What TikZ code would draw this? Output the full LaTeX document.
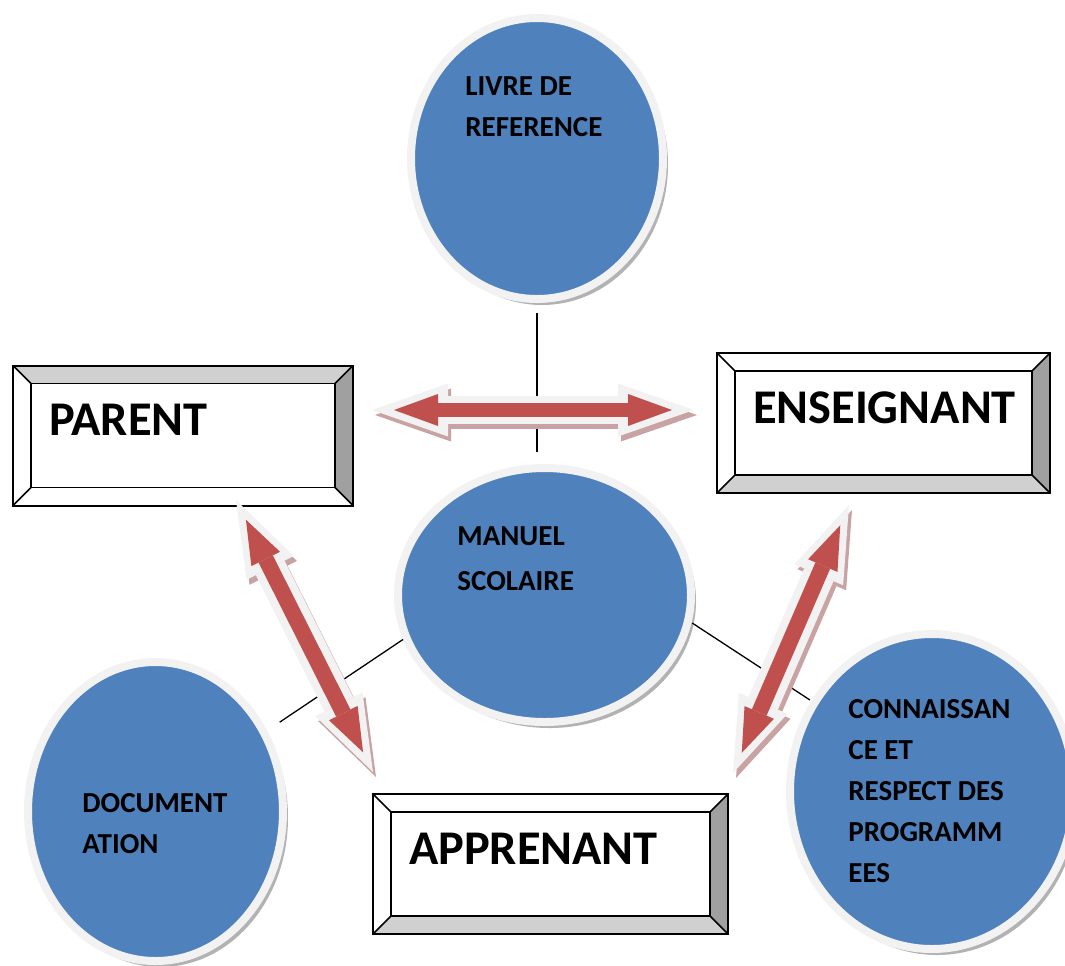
\documentclass[tikz,border=0pt]{standalone}
\usepackage{fontspec}
\setmainfont{Carlito}
\usetikzlibrary{shapes.geometric,arrows.meta,shadows}
\definecolor{officeblue}{HTML}{4F81BD}
\definecolor{officered}{HTML}{C0504D}
\definecolor{glowgray}{HTML}{F2F2F2}
\definecolor{arrowshade}{HTML}{C9A3A3}
\definecolor{bevellight}{HTML}{D0D0D0}
\definecolor{beveldark}{HTML}{A0A0A0}

\tikzset{
  bubble/.style={ellipse, inner sep=0pt, outer sep=0pt, fill=officeblue, draw=glowgray, line width=4pt,
    drop shadow={shadow xshift=2.5pt, shadow yshift=-3pt, fill=black!30, opacity=1}},
  bubbletext/.style={anchor=north west, inner sep=0pt, align=left,
    font=\fontsize{14.5}{20.5}\selectfont\bfseries},
  keybox/.style={rectangle, draw, line width=1pt, fill=white, outer sep=0pt,
    inner xsep=18pt, inner ysep=0pt, text height=35pt, text depth=35pt, align=left,
    font=\fontsize{24.2}{28}\selectfont\bfseries},
  bevelline/.style={line width=0.8pt},
  link/.style={line width=0.65pt},
  glow/.style={line width=#1, draw=glowgray,
    {Triangle[length=38pt,width=26.5pt,line width=0pt 0 0]}-{Triangle[length=38pt,width=26.5pt,line width=0pt 0 0]}},
  redarrow/.style={line width=#1, draw=officered, shorten <=11pt, shorten >=11pt,
    {Triangle[length=22pt,width=16pt,line width=0pt 0 0]}-{Triangle[length=22pt,width=16pt,line width=0pt 0 0]}}
}

\newcommand{\bevel}[3]{%
  \fill[#2] (#1.north west) -- (#1.north east) -- ([shift={(-18,18)}]#1.north east) -- ([shift={(18,18)}]#1.north west) -- cycle;
  \fill[#3] (#1.south west) -- (#1.south east) -- ([shift={(-18,-18)}]#1.south east) -- ([shift={(18,-18)}]#1.south west) -- cycle;
  \fill[beveldark] (#1.north east) -- (#1.south east) -- ([shift={(-18,-18)}]#1.south east) -- ([shift={(-18,18)}]#1.north east) -- cycle;
  \draw[bevelline] ([shift={(18,18)}]#1.north west) rectangle ([shift={(-18,-18)}]#1.south east);
  \draw[bevelline] (#1.north west) -- ++(18,18) (#1.north east) -- ++(-18,18)
    (#1.south west) -- ++(18,-18) (#1.south east) -- ++(-18,-18);
  \draw[line width=1pt] (#1.north west) rectangle (#1.south east);
}

\begin{document}
\begin{tikzpicture}[x=0.5pt,y=-0.5pt]
  \useasboundingbox (0,0) rectangle (1065,965);

  \node[bubble, minimum width=126pt, minimum height=140.5pt] (livre) at (537,158.5) {};
  \node[bubble, minimum width=146.5pt, minimum height=127pt] (manuel) at (544.5,595) {};
  \node[bubble, minimum width=127.5pt, minimum height=149.5pt] (doc) at (155.5,811.5) {};
  \node[bubble, minimum width=142pt, minimum height=157.5pt] (conn) at (932,791.5) {};

  \node[bubbletext] (livre-t) at (465,76.7) {LIVRE DE\\REFERENCE};
  \node[bubbletext, font=\fontsize{14.5}{22.5}\selectfont\bfseries] (manuel-t) at (457,526.7) {MANUEL\\SCOLAIRE};
  \node[bubbletext] (doc-t) at (82,792.7) {DOCUMENT\\ATION};
  \node[bubbletext] (conn-t) at (848,698.7) {CONNAISSAN\\CE ET\\RESPECT DES\\PROGRAMM\\EES};

  \draw[link, shorten <=7pt, shorten >=8pt] (livre.south) -- (livre.south |- manuel.north);
  \draw[link, shorten <=2pt, shorten >=9.5pt] (manuel.197) -- (doc.36);
  \draw[link, shorten <=2.5pt, shorten >=2.75pt] (manuel.350) -- (conn.143);

  \node[keybox, text width=134pt] (parent) at (183,435.5) {PARENT};
  \node[keybox, text width=130.5pt] (ens) at (883.5,423) {ENSEIGNANT};
  \node[keybox, text width=141.5pt] (appr) at (550.5,864) {APPRENANT};
  \bevel{parent}{bevellight}{white}
  \bevel{ens}{white}{bevellight}
  \bevel{appr}{white}{bevellight}

  \coordinate (pe1) at (372,410);
  \coordinate (pe2) at (694,410);
  \coordinate (pa1) at (236,500);
  \coordinate (pa2) at (373,772);
  \coordinate (ea1) at (849,505);
  \coordinate (ea2) at (733,773);

  \foreach \a/\b/\w in {pe1/pe2/7pt, pa1/pa2/8pt, ea1/ea2/8pt} {
    \draw[glow=2*\w, draw=arrowshade, transform canvas={xshift=1.5pt,yshift=-2.5pt}] (\a) -- (\b);
    \draw[glow=2*\w] (\a) -- (\b);
    \draw[redarrow=\w] (\a) -- (\b);
  }
\end{tikzpicture}
\end{document}
